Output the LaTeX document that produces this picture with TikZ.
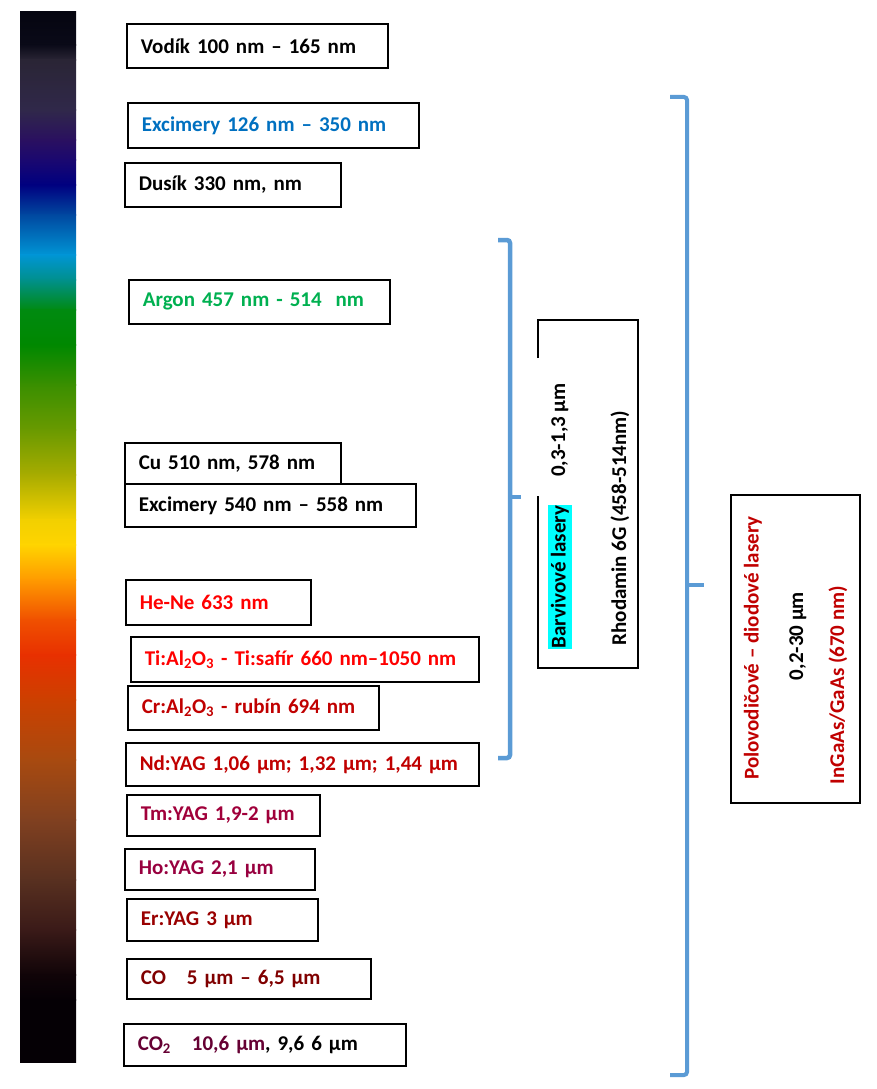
\documentclass[tikz,border=0pt]{standalone}
\usepackage{fontspec}
\setmainfont{Carlito}
\definecolor{exblue}{HTML}{0070C0}
\definecolor{argreen}{HTML}{00B050}
\definecolor{lasred}{HTML}{FF0000}
\definecolor{rubred}{HTML}{C00000}
\definecolor{tmred}{HTML}{A0003A}
\definecolor{hored}{HTML}{98003F}
\definecolor{erred}{HTML}{990000}
\definecolor{cored}{HTML}{800000}
\definecolor{cotwo}{HTML}{660033}
\definecolor{hilite}{HTML}{00FFFF}
\definecolor{brace}{HTML}{5B9BD5}
% spectrum stops, top to bottom
\definecolor{sp0}{HTML}{050510}
\definecolor{sp1}{HTML}{0A0A18}
\definecolor{sp2}{HTML}{2A2535}
\definecolor{sp3}{HTML}{30284A}
\definecolor{sp4}{HTML}{2A1060}
\definecolor{sp5}{HTML}{1A0870}
\definecolor{sp6}{HTML}{000080}
\definecolor{sp7}{HTML}{0048A0}
\definecolor{sp8}{HTML}{0095D5}
\definecolor{sp9}{HTML}{00908C}
\definecolor{sp10}{HTML}{008A10}
\definecolor{sp11}{HTML}{008800}
\definecolor{sp12}{HTML}{3A8F00}
\definecolor{sp13}{HTML}{6A9A00}
\definecolor{sp14}{HTML}{A8AC00}
\definecolor{sp15}{HTML}{F2D000}
\definecolor{sp16}{HTML}{FFD400}
\definecolor{sp17}{HTML}{FF9A00}
\definecolor{sp18}{HTML}{F05000}
\definecolor{sp19}{HTML}{E83000}
\definecolor{sp20}{HTML}{CC4000}
\definecolor{sp21}{HTML}{A84A10}
\definecolor{sp22}{HTML}{804020}
\definecolor{sp23}{HTML}{583020}
\definecolor{sp24}{HTML}{3A1A18}
\definecolor{sp25}{HTML}{100408}
\definecolor{sp26}{HTML}{050005}
\definecolor{sp27}{HTML}{050005}
\tikzset{
  lbox/.style={draw, line width=1.6pt, anchor=north west, inner xsep=14pt,
    inner ysep=0pt, align=left, font=\fontsize{21}{23}\selectfont\bfseries},
  vtext/.style={rotate=90, inner sep=1pt, font=\fontsize{21}{23}\selectfont\bfseries},
  brc/.style={brace, line width=4.5pt, rounded corners=3pt},
}
\begin{document}
\begin{tikzpicture}[x=1pt,y=-1pt]
  \useasboundingbox (0,0) rectangle (877,1089);
  % spectrum bar
  \foreach \ya/\yb [count=\i from 0] in {12/45,45/60,60/110,110/140,140/160,160/185,
      185/215,215/255,255/280,280/310,310/345,345/385,385/430,430/475,475/520,
      520/545,545/580,580/620,620/655,655/700,700/760,760/820,820/880,880/930,
      930/975,975/1000,1000/1062}{
    \pgfmathtruncatemacro\j{\i+1}
    \shade[top color=sp\i, bottom color=sp\j] (20,\ya-0.4) rectangle (76,\yb+0.4);
  }
  % laser boxes
  \node[lbox, text width=233, minimum height=44] (vodik) at (126,23) {Vodík 100 nm – 165 nm};
  \node[lbox, text width=263, minimum height=45, text=exblue] (excione) at (127,102) {Excimery 126 nm – 350 nm};
  \node[lbox, text width=188, minimum height=44] (dusik) at (124,162) {Dusík 330 nm, nm};
  \node[lbox, text width=233, minimum height=44, text=argreen] (argon) at (128,279) {Argon 457 nm - 514\ \ nm};
  \node[lbox, text width=188, minimum height=41] (cu) at (124,442) {Cu 510 nm, 578 nm};
  \node[lbox, text width=263, minimum height=43] (excitwo) at (124,483) {Excimery 540 nm – 558 nm};
  \node[lbox, text width=157, minimum height=45, text=lasred] (hene) at (125,579) {He-Ne 633 nm};
  \node[lbox, text width=320, minimum height=45, text=lasred] (tisafir) at (130,636) {Ti:Al\textsubscript{2}O\textsubscript{3} - Ti:safír 660 nm–1050 nm};
  \node[lbox, text width=223, minimum height=44, text=rubred] (rubin) at (127,685) {Cr:Al\textsubscript{2}O\textsubscript{3} - rubín 694 nm};
  \node[lbox, text width=325, minimum height=43, text=rubred] (ndyag) at (125,742) {Nd:YAG 1,06 µm; 1,32 µm; 1,44 µm};
  \node[lbox, text width=165, minimum height=41, text=tmred] (tmyag) at (126,794) {Tm:YAG 1,9-2 µm};
  \node[lbox, text width=162, minimum height=41, text=hored] (hoyag) at (124,848) {Ho:YAG 2,1 µm};
  \node[lbox, text width=163, minimum height=42, text=erred] (eryag) at (126,898) {Er:YAG 3 µm};
  \node[lbox, text width=216, minimum height=40, text=cored] (co) at (126,958) {CO\quad 5 µm – 6,5 µm};
  \node[lbox, text width=254, minimum height=42] (cotwo) at (123,1023) {{\color{cotwo}CO\textsubscript{2}\quad 10,6 µm}, 9,6 6 µm};
  % dye lasers
  \draw[line width=1.6pt] (538,358) -- (538,320) -- (638,320) -- (638,668) -- (538,668) -- (538,496);
  \node[vtext] (dyerange) at (560,430) {0,3-1,3 µm};
  \node[vtext, fill=hilite, inner ysep=3pt] (dye) at (560,577) {Barvivové lasery};
  \node[vtext] (rhodamin) at (620,528) {Rhodamin 6G (458-514nm)};
  % semiconductor lasers
  \draw[line width=1.6pt] (731,495) rectangle (860,803);
  \node[vtext, text=rubred] (polo) at (753,648) {Polovodičové – diodové lasery};
  \node[vtext] (polorange) at (798,636) {0,2-30 µm};
  \node[vtext, text=rubred] (ingaas) at (838,685) {InGaAs/GaAs (670 nm)};
  % braces
  \draw[brc] (498,240) -- (510,240) -- (510,758) -- (498,758);
  \draw[brc, rounded corners=0pt] (510,497) -- (521,497);
  \draw[brc, line width=4pt] (670,97) -- (687,97) -- (687,1075) -- (670,1075);
  \draw[brc, line width=4pt, rounded corners=0pt] (687,585) -- (704,585);
\end{tikzpicture}
\end{document}
